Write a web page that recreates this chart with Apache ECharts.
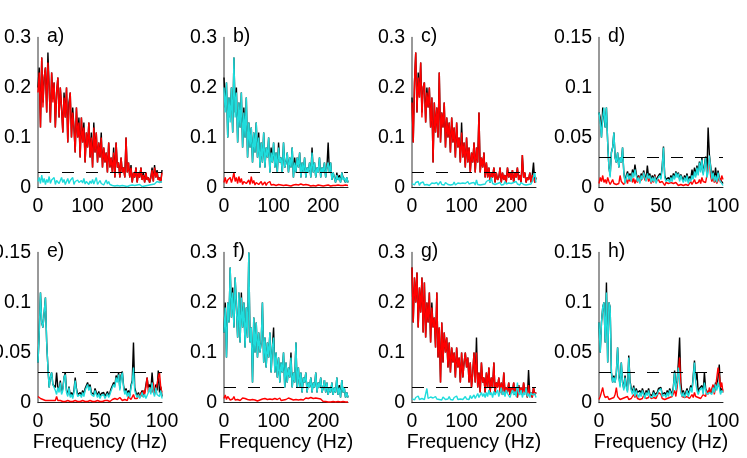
<!DOCTYPE html>
<html>
<head>
<meta charset="utf-8">
<script src="https://cdn.jsdelivr.net/npm/echarts@6/dist/echarts.min.js"></script>
<style>
  html, body { margin: 0; padding: 0; background: #fff; }
  #chart { width: 747px; height: 458px; }
</style>
</head>
<body>
<div id="chart"></div>
<script>
// frequency bins: 0-250 Hz (2.5 Hz steps) and 0-100 Hz (1 Hz steps)
const freqWide = [
  0, 2.5, 5, 7.5, 10, 12.5, 15, 17.5, 20, 22.5,
  25, 27.5, 30, 32.5, 35, 37.5, 40, 42.5, 45, 47.5,
  50, 52.5, 55, 57.5, 60, 62.5, 65, 67.5, 70, 72.5,
  75, 77.5, 80, 82.5, 85, 87.5, 90, 92.5, 95, 97.5,
  100, 102.5, 105, 107.5, 110, 112.5, 115, 117.5, 120, 122.5,
  125, 127.5, 130, 132.5, 135, 137.5, 140, 142.5, 145, 147.5,
  150, 152.5, 155, 157.5, 160, 162.5, 165, 167.5, 170, 172.5,
  175, 177.5, 180, 182.5, 185, 187.5, 190, 192.5, 195, 197.5,
  200, 202.5, 205, 207.5, 210, 212.5, 215, 217.5, 220, 222.5,
  225, 227.5, 230, 232.5, 235, 237.5, 240, 242.5, 245, 247.5,
  250
];
const freqNarrow = [
  0, 1, 2, 3, 4, 5, 6, 7, 8, 9,
  10, 11, 12, 13, 14, 15, 16, 17, 18, 19,
  20, 21, 22, 23, 24, 25, 26, 27, 28, 29,
  30, 31, 32, 33, 34, 35, 36, 37, 38, 39,
  40, 41, 42, 43, 44, 45, 46, 47, 48, 49,
  50, 51, 52, 53, 54, 55, 56, 57, 58, 59,
  60, 61, 62, 63, 64, 65, 66, 67, 68, 69,
  70, 71, 72, 73, 74, 75, 76, 77, 78, 79,
  80, 81, 82, 83, 84, 85, 86, 87, 88, 89,
  90, 91, 92, 93, 94, 95, 96, 97, 98, 99,
  100
];

const threshold = 0.03;
const panelLabels = ["a)", "b)", "c)", "d)", "e)", "f)", "g)", "h)"];
const xLabelName = "Frequency (Hz)";

// a)
const aBlack = [
  0.2, 0.24, 0.12, 0.26, 0.17, 0.22, 0.24, 0.15, 0.27, 0.2,
  0.13, 0.23, 0.18, 0.21, 0.12, 0.19, 0.22, 0.14, 0.2, 0.16,
  0.11, 0.19, 0.14, 0.2, 0.09, 0.17, 0.19, 0.1, 0.16, 0.12,
  0.07, 0.16, 0.1, 0.14, 0.06, 0.14, 0.09, 0.13, 0.05, 0.11,
  0.08, 0.13, 0.06, 0.11, 0.04, 0.13, 0.07, 0.11, 0.05, 0.09,
  0.06, 0.11, 0.04, 0.08, 0.05, 0.07, 0.03, 0.09, 0.04, 0.06,
  0.03, 0.08, 0.02, 0.09, 0.04, 0.05, 0.02, 0.06, 0.03, 0.04,
  0.02, 0.1, 0.03, 0.05, 0.02, 0.045, 0.01, 0.03, 0.02, 0.04,
  0.01, 0.03, 0.02, 0.04, 0.015, 0.03, 0.01, 0.03, 0.015, 0.02,
  0.01, 0.02, 0.04, 0.012, 0.045, 0.02, 0.035, 0.015, 0.02, 0.01,
  0.035
];
const aRed = [
  0.19, 0.23, 0.12, 0.26, 0.16, 0.22, 0.24, 0.15, 0.25, 0.2,
  0.13, 0.23, 0.17, 0.21, 0.12, 0.19, 0.22, 0.14, 0.2, 0.16,
  0.11, 0.18, 0.14, 0.2, 0.09, 0.16, 0.19, 0.1, 0.15, 0.12,
  0.07, 0.16, 0.1, 0.13, 0.06, 0.14, 0.09, 0.12, 0.05, 0.11,
  0.08, 0.13, 0.06, 0.1, 0.04, 0.12, 0.07, 0.11, 0.05, 0.09,
  0.06, 0.1, 0.04, 0.08, 0.05, 0.07, 0.03, 0.09, 0.04, 0.06,
  0.03, 0.07, 0.02, 0.09, 0.04, 0.05, 0.02, 0.06, 0.03, 0.04,
  0.02, 0.1, 0.03, 0.05, 0.02, 0.04, 0.01, 0.03, 0.02, 0.04,
  0.01, 0.03, 0.02, 0.04, 0.015, 0.025, 0.01, 0.03, 0.015, 0.02,
  0.01, 0.02, 0.035, 0.012, 0.04, 0.02, 0.03, 0.015, 0.02, 0.01,
  0.03
];
const aCyan = [
  0.012, 0.02, 0.008, 0.025, 0.01, 0.018, 0.006, 0.016, 0.01, 0.022,
  0.008, 0.015, 0.012, 0.02, 0.006, 0.014, 0.018, 0.008, 0.012, 0.02,
  0.01, 0.016, 0.006, 0.012, 0.018, 0.008, 0.014, 0.01, 0.02, 0.006,
  0.012, 0.008, 0.015, 0.01, 0.006, 0.014, 0.009, 0.018, 0.007, 0.012,
  0.01, 0.006, 0.013, 0.008, 0.016, 0.007, 0.011, 0.02, 0.006, 0.01,
  0.014, 0.008, 0.012, 0.005, 0.01, 0.015, 0.007, 0.012, 0.006, 0.009,
  0.004, 0.008, 0.003, 0.006, 0.004, 0.007, 0.003, 0.005, 0.004, 0.006,
  0.003, 0.005, 0.002, 0.006, 0.004, 0.003, 0.005, 0.002, 0.004, 0.003,
  0.005, 0.003, 0.006, 0.004, 0.002, 0.005, 0.003, 0.006, 0.004, 0.007,
  0.005, 0.008, 0.006, 0.01, 0.007, 0.009, 0.012, 0.008, 0.01, 0.013,
  0.012
];

// b)
const bBlack = [
  0.22, 0.16, 0.21, 0.1, 0.18, 0.14, 0.2, 0.11, 0.26, 0.15,
  0.2, 0.09, 0.17, 0.12, 0.19, 0.08, 0.16, 0.1, 0.18, 0.06,
  0.13, 0.08, 0.12, 0.05, 0.11, 0.07, 0.13, 0.06, 0.11, 0.04,
  0.09, 0.05, 0.11, 0.04, 0.08, 0.06, 0.1, 0.03, 0.08, 0.05,
  0.09, 0.04, 0.07, 0.03, 0.09, 0.05, 0.06, 0.03, 0.09, 0.04,
  0.05, 0.07, 0.03, 0.06, 0.04, 0.08, 0.02, 0.06, 0.03, 0.06,
  0.04, 0.07, 0.02, 0.05, 0.03, 0.06, 0.02, 0.04, 0.03, 0.05,
  0.02, 0.08, 0.03, 0.05, 0.02, 0.04, 0.03, 0.06, 0.02, 0.04,
  0.03, 0.05, 0.02, 0.04, 0.09, 0.03, 0.05, 0.015, 0.03, 0.02,
  0.01, 0.03, 0.015, 0.025, 0.01, 0.03, 0.02, 0.02, 0.01, 0.02,
  0.01
];
const bRed = [
  0.01, 0.02, 0.008, 0.015, 0.012, 0.02, 0.01, 0.018, 0.03, 0.012,
  0.02, 0.008, 0.022, 0.01, 0.018, 0.006, 0.012, 0.016, 0.008, 0.01,
  0.015, 0.006, 0.022, 0.008, 0.014, 0.005, 0.01, 0.012, 0.006, 0.009,
  0.012, 0.005, 0.008, 0.011, 0.004, 0.009, 0.007, 0.012, 0.005, 0.008,
  0.006, 0.01, 0.004, 0.008, 0.006, 0.009, 0.005, 0.007, 0.004, 0.008,
  0.005, 0.007, 0.004, 0.006, 0.003, 0.007, 0.005, 0.004, 0.006, 0.003,
  0.005, 0.004, 0.007, 0.003, 0.005, 0.004, 0.006, 0.003, 0.005, 0.004,
  0.003, 0.005, 0.004, 0.006, 0.003, 0.004, 0.005, 0.003, 0.004, 0.006,
  0.003, 0.005, 0.004, 0.003, 0.005, 0.004, 0.003, 0.005, 0.004, 0.003,
  0.004, 0.003, 0.005, 0.003, 0.004, 0.002, 0.004, 0.003, 0.005, 0.003,
  0.004
];
const bCyan = [
  0.2, 0.15, 0.21, 0.1, 0.18, 0.13, 0.2, 0.11, 0.26, 0.14,
  0.19, 0.09, 0.17, 0.12, 0.19, 0.08, 0.15, 0.1, 0.18, 0.06,
  0.13, 0.08, 0.12, 0.05, 0.11, 0.07, 0.13, 0.06, 0.1, 0.04,
  0.09, 0.05, 0.11, 0.04, 0.08, 0.06, 0.1, 0.03, 0.07, 0.05,
  0.09, 0.04, 0.07, 0.03, 0.08, 0.05, 0.06, 0.03, 0.09, 0.04,
  0.05, 0.07, 0.03, 0.06, 0.04, 0.08, 0.02, 0.05, 0.03, 0.06,
  0.04, 0.07, 0.02, 0.05, 0.03, 0.06, 0.02, 0.04, 0.03, 0.05,
  0.02, 0.07, 0.03, 0.05, 0.02, 0.04, 0.03, 0.06, 0.02, 0.04,
  0.03, 0.05, 0.02, 0.04, 0.05, 0.03, 0.05, 0.015, 0.03, 0.02,
  0.01, 0.025, 0.015, 0.02, 0.01, 0.03, 0.015, 0.02, 0.01, 0.02,
  0.01
];

// c)
const cBlack = [
  0.18, 0.09, 0.21, 0.27, 0.15, 0.23, 0.18, 0.25, 0.15, 0.2,
  0.21, 0.13, 0.2, 0.16, 0.2, 0.12, 0.18, 0.05, 0.17, 0.11,
  0.16, 0.1, 0.23, 0.09, 0.15, 0.12, 0.17, 0.08, 0.14, 0.1,
  0.13, 0.07, 0.14, 0.09, 0.12, 0.06, 0.13, 0.08, 0.1, 0.05,
  0.13, 0.06, 0.09, 0.04, 0.1, 0.05, 0.08, 0.03, 0.07, 0.05,
  0.09, 0.03, 0.08, 0.05, 0.15, 0.03, 0.06, 0.04, 0.07, 0.02,
  0.05, 0.02, 0.04, 0.01, 0.03, 0.02, 0.04, 0.01, 0.03, 0.015,
  0.02, 0.04, 0.01, 0.03, 0.015, 0.025, 0.01, 0.04, 0.02, 0.03,
  0.015, 0.035, 0.01, 0.03, 0.02, 0.04, 0.015, 0.025, 0.01, 0.065,
  0.02, 0.03, 0.01, 0.02, 0.015, 0.03, 0.01, 0.025, 0.05, 0.01,
  0.02
];
const cRed = [
  0.17, 0.09, 0.21, 0.27, 0.15, 0.22, 0.18, 0.25, 0.14, 0.2,
  0.21, 0.13, 0.19, 0.16, 0.2, 0.12, 0.18, 0.05, 0.17, 0.11,
  0.16, 0.1, 0.23, 0.09, 0.15, 0.12, 0.17, 0.08, 0.14, 0.1,
  0.13, 0.07, 0.14, 0.09, 0.12, 0.06, 0.13, 0.08, 0.1, 0.05,
  0.11, 0.06, 0.09, 0.04, 0.1, 0.05, 0.08, 0.03, 0.07, 0.05,
  0.09, 0.03, 0.08, 0.05, 0.15, 0.03, 0.06, 0.04, 0.07, 0.02,
  0.05, 0.02, 0.04, 0.01, 0.03, 0.02, 0.04, 0.01, 0.03, 0.015,
  0.02, 0.04, 0.01, 0.03, 0.015, 0.025, 0.01, 0.04, 0.02, 0.03,
  0.015, 0.035, 0.01, 0.03, 0.02, 0.04, 0.015, 0.025, 0.01, 0.065,
  0.02, 0.03, 0.01, 0.02, 0.015, 0.03, 0.01, 0.025, 0.02, 0.01,
  0.02
];
const cCyan = [
  0.008, 0.012, 0.005, 0.01, 0.006, 0.012, 0.004, 0.009, 0.007, 0.011,
  0.005, 0.008, 0.006, 0.01, 0.004, 0.007, 0.009, 0.005, 0.008, 0.006,
  0.01, 0.005, 0.008, 0.012, 0.006, 0.009, 0.005, 0.01, 0.007, 0.006,
  0.009, 0.005, 0.008, 0.006, 0.011, 0.005, 0.007, 0.009, 0.006, 0.008,
  0.005, 0.009, 0.006, 0.008, 0.005, 0.012, 0.007, 0.005, 0.009, 0.006,
  0.01, 0.005, 0.015, 0.006, 0.008, 0.005, 0.009, 0.006, 0.01, 0.007,
  0.012, 0.008, 0.015, 0.01, 0.02, 0.008, 0.012, 0.006, 0.01, 0.008,
  0.006, 0.01, 0.005, 0.008, 0.006, 0.012, 0.007, 0.005, 0.009, 0.006,
  0.008, 0.005, 0.01, 0.006, 0.012, 0.007, 0.009, 0.005, 0.01, 0.007,
  0.006, 0.009, 0.005, 0.008, 0.006, 0.01, 0.007, 0.012, 0.015, 0.03,
  0.01
];

// d)
const dBlack = [
  0.075, 0.07, 0.05, 0.08, 0.08, 0.06, 0.08, 0.045, 0.02, 0.012,
  0.035, 0.04, 0.055, 0.03, 0.025, 0.035, 0.02, 0.03, 0.025, 0.04,
  0.015, 0.006, 0.012, 0.016, 0.01, 0.014, 0.008, 0.018, 0.012, 0.023,
  0.014, 0.008, 0.012, 0.006, 0.014, 0.01, 0.017, 0.012, 0.008, 0.022,
  0.01, 0.014, 0.007, 0.012, 0.008, 0.013, 0.006, 0.01, 0.008, 0.014,
  0.01, 0.022, 0.041, 0.012, 0.008, 0.006, 0.01, 0.007, 0.012, 0.008,
  0.014, 0.01, 0.016, 0.012, 0.015, 0.008, 0.013, 0.01, 0.007, 0.012,
  0.008, 0.014, 0.006, 0.011, 0.008, 0.018, 0.01, 0.02, 0.012, 0.022,
  0.014, 0.026, 0.017, 0.03, 0.014, 0.022, 0.031, 0.012, 0.06, 0.033,
  0.022, 0.01, 0.017, 0.008, 0.02, 0.007, 0.017, 0.01, 0.012, 0.006,
  0.004
];
const dRed = [
  0.004, 0.01, 0.006, 0.012, 0.005, 0.008, 0.004, 0.01, 0.006, 0.003,
  0.005, 0.008, 0.004, 0.006, 0.003, 0.005, 0.004, 0.012, 0.006, 0.004,
  0.003, 0.005, 0.008, 0.004, 0.01, 0.006, 0.012, 0.005, 0.009, 0.004,
  0.008, 0.005, 0.011, 0.006, 0.004, 0.009, 0.015, 0.007, 0.005, 0.012,
  0.006, 0.01, 0.004, 0.008, 0.005, 0.012, 0.006, 0.004, 0.008, 0.005,
  0.003, 0.006, 0.004, 0.002, 0.005, 0.003, 0.004, 0.002, 0.005, 0.003,
  0.004, 0.002, 0.005, 0.003, 0.002, 0.004, 0.003, 0.005, 0.002, 0.004,
  0.003, 0.005, 0.002, 0.004, 0.006, 0.003, 0.005, 0.008, 0.004, 0.006,
  0.005, 0.008, 0.004, 0.01, 0.006, 0.008, 0.005, 0.012, 0.02, 0.03,
  0.012, 0.006, 0.01, 0.005, 0.008, 0.004, 0.006, 0.01, 0.005, 0.012,
  0.008
];
const dCyan = [
  0.075, 0.065, 0.05, 0.07, 0.08, 0.06, 0.08, 0.045, 0.02, 0.01,
  0.035, 0.04, 0.055, 0.03, 0.025, 0.035, 0.02, 0.03, 0.025, 0.04,
  0.015, 0.004, 0.01, 0.014, 0.008, 0.012, 0.006, 0.015, 0.01, 0.018,
  0.012, 0.006, 0.01, 0.004, 0.012, 0.008, 0.015, 0.01, 0.006, 0.014,
  0.009, 0.012, 0.005, 0.01, 0.006, 0.011, 0.004, 0.008, 0.006, 0.012,
  0.008, 0.02, 0.04, 0.01, 0.006, 0.004, 0.008, 0.005, 0.01, 0.006,
  0.012, 0.008, 0.015, 0.01, 0.014, 0.006, 0.012, 0.008, 0.005, 0.01,
  0.006, 0.012, 0.004, 0.009, 0.006, 0.012, 0.008, 0.016, 0.01, 0.02,
  0.012, 0.025, 0.015, 0.028, 0.012, 0.02, 0.03, 0.01, 0.015, 0.032,
  0.02, 0.008, 0.015, 0.006, 0.012, 0.005, 0.015, 0.008, 0.01, 0.004,
  0.002
];

// e)
const eBlack = [
  0.04, 0.07, 0.11, 0.08, 0.075, 0.09, 0.105, 0.06, 0.035, 0.015,
  0.025, 0.03, 0.018, 0.02, 0.015, 0.03, 0.015, 0.012, 0.022, 0.01,
  0.014, 0.025, 0.03, 0.012, 0.008, 0.016, 0.007, 0.01, 0.006, 0.012,
  0.025, 0.014, 0.008, 0.006, 0.01, 0.007, 0.012, 0.008, 0.014, 0.016,
  0.02, 0.014, 0.018, 0.01, 0.012, 0.008, 0.014, 0.01, 0.007, 0.011,
  0.006, 0.009, 0.007, 0.01, 0.006, 0.008, 0.011, 0.007, 0.01, 0.014,
  0.012, 0.02, 0.017, 0.027, 0.022, 0.03, 0.014, 0.027, 0.031, 0.017,
  0.01, 0.014, 0.008, 0.012, 0.007, 0.017, 0.022, 0.06, 0.015, 0.01,
  0.007, 0.01, 0.006, 0.008, 0.012, 0.007, 0.01, 0.012, 0.025, 0.015,
  0.018, 0.012, 0.03, 0.014, 0.01, 0.018, 0.012, 0.032, 0.01, 0.016,
  0.006
];
const eRed = [
  0.006, 0.005, 0.004, 0.005, 0.003, 0.004, 0.002, 0.003, 0.002, 0.003,
  0.002, 0.003, 0.002, 0.001, 0.002, 0.006, 0.002, 0.001, 0.002, 0.001,
  0.001, 0.002, 0.001, 0.001, 0.002, 0.001, 0.001, 0.002, 0.001, 0.001,
  0.002, 0.001, 0.001, 0.002, 0.001, 0.001, 0.002, 0.001, 0.001, 0.002,
  0.001, 0.001, 0.002, 0.001, 0.001, 0.002, 0.001, 0.001, 0.002, 0.001,
  0.001, 0.002, 0.001, 0.003, 0.002, 0.004, 0.002, 0.003, 0.001, 0.002,
  0.003, 0.002, 0.004, 0.002, 0.003, 0.002, 0.005, 0.003, 0.002, 0.004,
  0.003, 0.005, 0.002, 0.006, 0.004, 0.003, 0.005, 0.008, 0.004, 0.006,
  0.004, 0.008, 0.005, 0.01, 0.006, 0.012, 0.008, 0.015, 0.025, 0.01,
  0.008, 0.015, 0.01, 0.02, 0.008, 0.012, 0.018, 0.025, 0.03, 0.015,
  0.01
];
const eCyan = [
  0.04, 0.07, 0.11, 0.08, 0.075, 0.09, 0.105, 0.06, 0.035, 0.015,
  0.025, 0.03, 0.018, 0.02, 0.012, 0.008, 0.015, 0.01, 0.02, 0.008,
  0.012, 0.025, 0.028, 0.01, 0.006, 0.015, 0.005, 0.008, 0.004, 0.01,
  0.022, 0.012, 0.006, 0.004, 0.008, 0.005, 0.01, 0.006, 0.012, 0.015,
  0.018, 0.012, 0.016, 0.008, 0.01, 0.006, 0.012, 0.008, 0.005, 0.009,
  0.004, 0.007, 0.005, 0.008, 0.004, 0.006, 0.009, 0.005, 0.008, 0.012,
  0.01, 0.018, 0.015, 0.025, 0.02, 0.028, 0.012, 0.025, 0.03, 0.015,
  0.008, 0.012, 0.006, 0.01, 0.005, 0.015, 0.02, 0.035, 0.012, 0.008,
  0.005, 0.008, 0.004, 0.006, 0.01, 0.005, 0.008, 0.004, 0.006, 0.01,
  0.015, 0.008, 0.02, 0.01, 0.006, 0.015, 0.008, 0.01, 0.006, 0.012,
  0.004
];

// f)
const fBlack = [
  0.14, 0.2, 0.09, 0.2, 0.16, 0.27, 0.17, 0.23, 0.15, 0.25,
  0.25, 0.13, 0.22, 0.12, 0.22, 0.15, 0.2, 0.11, 0.19, 0.13,
  0.3, 0.12, 0.15, 0.04, 0.17, 0.1, 0.16, 0.09, 0.14, 0.1,
  0.12, 0.2, 0.08, 0.13, 0.07, 0.12, 0.09, 0.14, 0.06, 0.11,
  0.15, 0.06, 0.1, 0.05, 0.09, 0.04, 0.08, 0.06, 0.1, 0.03,
  0.08, 0.04, 0.07, 0.05, 0.1, 0.03, 0.06, 0.04, 0.12, 0.03,
  0.07, 0.03, 0.06, 0.02, 0.05, 0.04, 0.06, 0.02, 0.04, 0.03,
  0.05, 0.02, 0.04, 0.03, 0.06, 0.02, 0.04, 0.03, 0.05, 0.02,
  0.03, 0.045, 0.02, 0.04, 0.015, 0.03, 0.02, 0.04, 0.015, 0.03,
  0.02, 0.05, 0.015, 0.035, 0.01, 0.045, 0.02, 0.03, 0.01, 0.02,
  0.01
];
const fRed = [
  0.008, 0.015, 0.006, 0.012, 0.01, 0.005, 0.009, 0.007, 0.012, 0.005,
  0.008, 0.006, 0.01, 0.004, 0.007, 0.009, 0.005, 0.008, 0.004, 0.006,
  0.003, 0.005, 0.004, 0.006, 0.003, 0.005, 0.004, 0.003, 0.006, 0.005,
  0.004, 0.007, 0.005, 0.008, 0.004, 0.006, 0.005, 0.007, 0.004, 0.006,
  0.005, 0.008, 0.004, 0.006, 0.005, 0.009, 0.004, 0.007, 0.005, 0.008,
  0.006, 0.004, 0.009, 0.005, 0.007, 0.01, 0.005, 0.008, 0.006, 0.009,
  0.005, 0.008, 0.006, 0.01, 0.005, 0.007, 0.009, 0.005, 0.008, 0.006,
  0.01, 0.006, 0.008, 0.005, 0.009, 0.006, 0.008, 0.005, 0.007, 0.004,
  0.002, 0.001, 0.002, 0.001, 0.001, 0.002, 0.001, 0.001, 0.002, 0.001,
  0.001, 0.001, 0.002, 0.001, 0.001, 0.001, 0.002, 0.001, 0.001, 0.001,
  0.001
];
const fCyan = [
  0.14, 0.19, 0.09, 0.2, 0.16, 0.27, 0.17, 0.22, 0.15, 0.25,
  0.25, 0.13, 0.22, 0.12, 0.21, 0.15, 0.2, 0.11, 0.19, 0.13,
  0.3, 0.12, 0.15, 0.04, 0.17, 0.1, 0.16, 0.09, 0.14, 0.1,
  0.12, 0.2, 0.08, 0.13, 0.07, 0.12, 0.09, 0.14, 0.06, 0.11,
  0.13, 0.06, 0.1, 0.05, 0.09, 0.04, 0.08, 0.06, 0.1, 0.03,
  0.08, 0.04, 0.07, 0.05, 0.09, 0.03, 0.06, 0.04, 0.12, 0.03,
  0.07, 0.03, 0.06, 0.02, 0.05, 0.04, 0.06, 0.02, 0.04, 0.03,
  0.05, 0.02, 0.04, 0.03, 0.06, 0.02, 0.04, 0.03, 0.05, 0.02,
  0.03, 0.045, 0.02, 0.04, 0.015, 0.03, 0.02, 0.04, 0.015, 0.03,
  0.02, 0.05, 0.015, 0.03, 0.01, 0.045, 0.02, 0.03, 0.01, 0.02,
  0.01
];

// g)
const gBlack = [
  0.27, 0.16, 0.25, 0.2, 0.26, 0.15, 0.23, 0.18, 0.25, 0.14,
  0.24, 0.13, 0.2, 0.16, 0.22, 0.12, 0.2, 0.15, 0.17, 0.11,
  0.22, 0.09, 0.15, 0.04, 0.16, 0.08, 0.14, 0.1, 0.13, 0.07,
  0.12, 0.06, 0.11, 0.08, 0.1, 0.05, 0.11, 0.07, 0.09, 0.04,
  0.1, 0.05, 0.08, 0.1, 0.07, 0.09, 0.04, 0.08, 0.03, 0.06,
  0.1, 0.04, 0.13, 0.03, 0.06, 0.02, 0.08, 0.04, 0.05, 0.02,
  0.06, 0.03, 0.07, 0.02, 0.05, 0.03, 0.08, 0.02, 0.04, 0.03,
  0.05, 0.02, 0.04, 0.015, 0.06, 0.02, 0.03, 0.02, 0.04, 0.015,
  0.03, 0.02, 0.04, 0.015, 0.03, 0.01, 0.035, 0.02, 0.03, 0.015,
  0.04, 0.02, 0.03, 0.01, 0.065, 0.015, 0.02, 0.01, 0.03, 0.015,
  0.02
];
const gRed = [
  0.27, 0.16, 0.25, 0.2, 0.26, 0.15, 0.23, 0.18, 0.25, 0.14,
  0.24, 0.13, 0.2, 0.16, 0.22, 0.12, 0.19, 0.15, 0.17, 0.11,
  0.22, 0.09, 0.15, 0.04, 0.16, 0.08, 0.14, 0.1, 0.13, 0.07,
  0.12, 0.06, 0.11, 0.08, 0.1, 0.05, 0.11, 0.07, 0.09, 0.04,
  0.1, 0.05, 0.08, 0.1, 0.07, 0.09, 0.04, 0.08, 0.03, 0.06,
  0.1, 0.04, 0.1, 0.03, 0.06, 0.02, 0.08, 0.04, 0.05, 0.02,
  0.06, 0.03, 0.07, 0.02, 0.05, 0.03, 0.08, 0.02, 0.04, 0.03,
  0.05, 0.02, 0.04, 0.015, 0.06, 0.02, 0.03, 0.02, 0.04, 0.015,
  0.03, 0.02, 0.04, 0.015, 0.03, 0.01, 0.035, 0.02, 0.03, 0.015,
  0.04, 0.02, 0.03, 0.01, 0.035, 0.015, 0.02, 0.01, 0.03, 0.015,
  0.02
];
const gCyan = [
  0.008, 0.012, 0.005, 0.01, 0.007, 0.013, 0.006, 0.01, 0.008, 0.012,
  0.006, 0.01, 0.028, 0.008, 0.005, 0.011, 0.007, 0.009, 0.005, 0.012,
  0.007, 0.01, 0.006, 0.009, 0.005, 0.011, 0.008, 0.006, 0.01, 0.007,
  0.012, 0.006, 0.009, 0.005, 0.01, 0.007, 0.013, 0.006, 0.009, 0.007,
  0.01, 0.006, 0.008, 0.012, 0.007, 0.01, 0.006, 0.014, 0.008, 0.011,
  0.015, 0.008, 0.012, 0.018, 0.01, 0.015, 0.02, 0.012, 0.018, 0.01,
  0.02, 0.012, 0.025, 0.015, 0.02, 0.01, 0.022, 0.015, 0.018, 0.025,
  0.012, 0.02, 0.03, 0.015, 0.022, 0.012, 0.025, 0.018, 0.02, 0.01,
  0.018, 0.025, 0.015, 0.022, 0.012, 0.04, 0.02, 0.015, 0.025, 0.01,
  0.02, 0.015, 0.03, 0.012, 0.018, 0.01, 0.02, 0.015, 0.012, 0.018,
  0.01
];

// h)
const hBlack = [
  0.08, 0.05, 0.08, 0.095, 0.1, 0.06, 0.12, 0.04, 0.1, 0.095,
  0.03, 0.02, 0.027, 0.02, 0.03, 0.055, 0.027, 0.017, 0.04, 0.02,
  0.014, 0.027, 0.017, 0.012, 0.047, 0.022, 0.014, 0.01, 0.017, 0.008,
  0.014, 0.01, 0.008, 0.012, 0.008, 0.014, 0.01, 0.006, 0.012, 0.009,
  0.014, 0.008, 0.01, 0.007, 0.012, 0.008, 0.006, 0.01, 0.014, 0.012,
  0.015, 0.008, 0.006, 0.01, 0.007, 0.012, 0.008, 0.014, 0.012, 0.008,
  0.016, 0.032, 0.014, 0.022, 0.04, 0.065, 0.02, 0.008, 0.012, 0.007,
  0.01, 0.014, 0.008, 0.012, 0.017, 0.012, 0.027, 0.042, 0.022, 0.03,
  0.01, 0.014, 0.012, 0.017, 0.01, 0.03, 0.014, 0.01, 0.008, 0.012,
  0.014, 0.01, 0.017, 0.012, 0.02, 0.014, 0.025, 0.038, 0.01, 0.014,
  0.012
];
const hRed = [
  0.003, 0.006, 0.004, 0.015, 0.008, 0.005, 0.004, 0.006, 0.003, 0.005,
  0.004, 0.003, 0.005, 0.008, 0.015, 0.006, 0.004, 0.003, 0.005, 0.004,
  0.003, 0.005, 0.004, 0.006, 0.003, 0.005, 0.004, 0.006, 0.008, 0.005,
  0.008, 0.004, 0.006, 0.003, 0.005, 0.004, 0.007, 0.005, 0.004, 0.006,
  0.005, 0.008, 0.004, 0.006, 0.005, 0.007, 0.004, 0.006, 0.01, 0.012,
  0.008, 0.004, 0.006, 0.003, 0.005, 0.004, 0.006, 0.005, 0.004, 0.006,
  0.008, 0.012, 0.006, 0.015, 0.03, 0.045, 0.012, 0.006, 0.004, 0.005,
  0.004, 0.006, 0.005, 0.004, 0.006, 0.008, 0.005, 0.01, 0.006, 0.008,
  0.005, 0.007, 0.004, 0.006, 0.008, 0.01, 0.006, 0.012, 0.008, 0.015,
  0.01, 0.012, 0.018, 0.008, 0.015, 0.025, 0.035, 0.028, 0.015, 0.02,
  0.01
];
const hCyan = [
  0.08, 0.05, 0.08, 0.095, 0.1, 0.06, 0.11, 0.04, 0.1, 0.095,
  0.03, 0.02, 0.025, 0.02, 0.03, 0.055, 0.025, 0.015, 0.04, 0.02,
  0.012, 0.025, 0.015, 0.01, 0.045, 0.02, 0.012, 0.008, 0.015, 0.006,
  0.012, 0.008, 0.005, 0.01, 0.006, 0.012, 0.008, 0.004, 0.01, 0.007,
  0.012, 0.006, 0.008, 0.005, 0.01, 0.006, 0.004, 0.008, 0.012, 0.01,
  0.014, 0.006, 0.004, 0.008, 0.005, 0.01, 0.006, 0.012, 0.01, 0.006,
  0.015, 0.03, 0.012, 0.02, 0.035, 0.02, 0.01, 0.006, 0.01, 0.005,
  0.008, 0.012, 0.006, 0.01, 0.015, 0.01, 0.025, 0.04, 0.02, 0.012,
  0.008, 0.012, 0.01, 0.015, 0.008, 0.02, 0.012, 0.008, 0.006, 0.01,
  0.012, 0.008, 0.015, 0.01, 0.018, 0.012, 0.02, 0.015, 0.008, 0.012,
  0.01
];

// panel table (row-major: a b c d / e f g h)
const panels = [
  { freq: freqWide, xMax: 250, xStep: 100, yMax: 0.3, yStep: 0.1, black: aBlack, red: aRed, cyan: aCyan },
  { freq: freqWide, xMax: 250, xStep: 100, yMax: 0.3, yStep: 0.1, black: bBlack, red: bRed, cyan: bCyan },
  { freq: freqWide, xMax: 250, xStep: 100, yMax: 0.3, yStep: 0.1, black: cBlack, red: cRed, cyan: cCyan },
  { freq: freqNarrow, xMax: 100, xStep: 50, yMax: 0.15, yStep: 0.05, black: dBlack, red: dRed, cyan: dCyan },
  { freq: freqNarrow, xMax: 100, xStep: 50, yMax: 0.15, yStep: 0.05, black: eBlack, red: eRed, cyan: eCyan },
  { freq: freqWide, xMax: 250, xStep: 100, yMax: 0.3, yStep: 0.1, black: fBlack, red: fRed, cyan: fCyan },
  { freq: freqWide, xMax: 250, xStep: 100, yMax: 0.3, yStep: 0.1, black: gBlack, red: gRed, cyan: gCyan },
  { freq: freqNarrow, xMax: 100, xStep: 50, yMax: 0.15, yStep: 0.05, black: hBlack, red: hRed, cyan: hCyan },
];

const FONT = "'Liberation Sans', Arial, sans-serif";
const FS = 19.5;
const lefts = [38, 224, 412, 599];
const tops = [37.5, 252.5];
const W = 124, H = 150;

const pair = (xs, ys) => xs.map((x, i) => [x, ys[i]]);

const grid = [], xAxis = [], yAxis = [], series = [], title = [];
panels.forEach((p, k) => {
  const col = k % 4, row = Math.floor(k / 4);
  // outerBoundsMode none: let the tick labels run off the page edge like the original
  grid.push({ left: lefts[col], top: tops[row], width: W, height: H, containLabel: false, outerBoundsMode: "none" });
  xAxis.push({
    type: "value", gridIndex: k, min: 0, max: p.xMax, interval: p.xStep,
    name: row === 1 ? xLabelName : "", nameLocation: "middle", nameGap: 30,
    nameTextStyle: { fontFamily: FONT, fontSize: FS, color: "#000" },
    axisLine: { show: true, onZero: false, lineStyle: { color: "#222", width: 1 } },
    axisTick: { show: false },
    axisLabel: { margin: 9, fontFamily: FONT, fontSize: FS, color: "#000", showMaxLabel: p.xMax === 100 },
    splitLine: { show: false },
  });
  yAxis.push({
    type: "value", gridIndex: k, min: 0, max: p.yMax, interval: p.yStep,
    axisLine: { show: true, lineStyle: { color: "#777", width: 1.5 } },
    axisTick: { show: false },
    axisLabel: { margin: 7, fontFamily: FONT, fontSize: FS, color: "#000" },
    splitLine: { show: false },
  });
  title.push({
    text: panelLabels[k], left: lefts[col] + 9, top: tops[row] - 11, padding: 0,
    textStyle: { fontFamily: FONT, fontSize: FS, fontWeight: "normal", color: "#000" },
  });
  const base = { type: "line", xAxisIndex: k, yAxisIndex: k, showSymbol: false, symbol: "none", silent: true, clip: true };
  series.push({ ...base, data: pair(p.freq, p.black), lineStyle: { color: "#000", width: 1.4 } });
  series.push({ ...base, data: pair(p.freq, p.red), lineStyle: { color: "#f00", width: 1.4 } });
  series.push({
    ...base, data: pair(p.freq, p.cyan), lineStyle: { color: "#1fdcdc", width: 1.4 },
    markLine: {
      silent: true, symbol: ["none", "none"], label: { show: false },
      lineStyle: { color: "#000", width: 1, type: [12, 12] },
      data: [{ yAxis: threshold }],
    },
  });
});

const chart = echarts.init(document.getElementById("chart"), null, { renderer: "canvas" });
chart.setOption({
  animation: false,
  backgroundColor: "#fff",
  title, grid, xAxis, yAxis, series,
});
</script>
</body>
</html>
